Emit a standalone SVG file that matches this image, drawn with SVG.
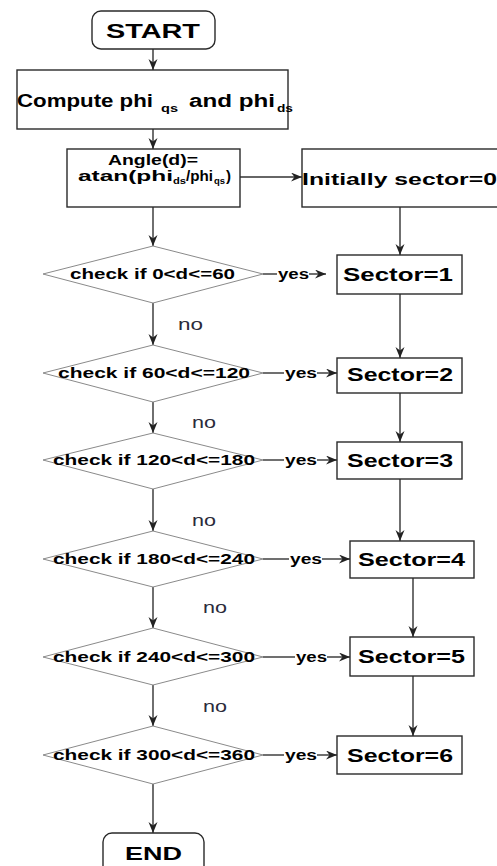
<svg xmlns="http://www.w3.org/2000/svg" width="497" height="866" viewBox="0 0 497 866">
  <style>
    .box { fill: #fff; stroke: #2a2a2a; stroke-width: 1.4; }
    .dec { fill: #fff; stroke: #8a8a8a; stroke-width: 1; }
    .wire { fill: none; stroke: #333; stroke-width: 1.4; }
    .b { font-family: "Liberation Sans", Arial, sans-serif; font-weight: bold; fill: #000; }
    .no { font-family: "Liberation Sans", Arial, sans-serif; font-size: 17px; fill: #2b2b3a; }
  </style>
  <defs>
    <marker id="ah" markerUnits="userSpaceOnUse" markerWidth="12" markerHeight="10" refX="11" refY="4.5" orient="auto">
      <path d="M0,0 L11,4.5 L0,9 L3.5,4.5 z" fill="#222"/>
    </marker>
  </defs>

  <!-- connectors -->
  <g id="connectors">
    <line class="wire" x1="153" y1="49" x2="153" y2="70" marker-end="url(#ah)"/>
    <line class="wire" x1="153" y1="129" x2="153" y2="149" marker-end="url(#ah)"/>
    <line class="wire" x1="240" y1="177" x2="302" y2="177" marker-end="url(#ah)"/>
    <line class="wire" x1="153" y1="207" x2="153" y2="246" marker-end="url(#ah)"/>
    <line class="wire" x1="400" y1="207" x2="400" y2="255" marker-end="url(#ah)"/>

    <line class="wire" x1="153" y1="303" x2="153" y2="345" marker-end="url(#ah)"/>
    <line class="wire" x1="153" y1="402" x2="153" y2="433" marker-end="url(#ah)"/>
    <line class="wire" x1="153" y1="489" x2="153" y2="531" marker-end="url(#ah)"/>
    <line class="wire" x1="153" y1="587" x2="153" y2="628" marker-end="url(#ah)"/>
    <line class="wire" x1="153" y1="685" x2="153" y2="726" marker-end="url(#ah)"/>
    <line class="wire" x1="153" y1="784" x2="153" y2="833" marker-end="url(#ah)"/>

    <line class="wire" x1="400" y1="294" x2="400" y2="358" marker-end="url(#ah)"/>
    <line class="wire" x1="400" y1="393" x2="400" y2="442" marker-end="url(#ah)"/>
    <line class="wire" x1="400" y1="479" x2="400" y2="541" marker-end="url(#ah)"/>
    <line class="wire" x1="413" y1="578" x2="413" y2="637" marker-end="url(#ah)"/>
    <line class="wire" x1="413" y1="667" x2="413" y2="736" marker-end="url(#ah)"/>

    <!-- yes branches -->
    <line class="wire" x1="263" y1="274" x2="277" y2="274"/>
    <line class="wire" x1="309" y1="274" x2="326" y2="274" marker-end="url(#ah)"/>
    <line class="wire" x1="263" y1="373" x2="284" y2="373"/>
    <line class="wire" x1="317" y1="373" x2="337" y2="373" marker-end="url(#ah)"/>
    <line class="wire" x1="263" y1="460" x2="284" y2="460"/>
    <line class="wire" x1="317" y1="460" x2="337" y2="460" marker-end="url(#ah)"/>
    <line class="wire" x1="263" y1="559" x2="289" y2="559"/>
    <line class="wire" x1="322" y1="559" x2="350" y2="559" marker-end="url(#ah)"/>
    <line class="wire" x1="263" y1="657" x2="295" y2="657"/>
    <line class="wire" x1="327" y1="657" x2="350" y2="657" marker-end="url(#ah)"/>
    <line class="wire" x1="263" y1="755" x2="284" y2="755"/>
    <line class="wire" x1="317" y1="755" x2="337" y2="755" marker-end="url(#ah)"/>

    <g class="b" font-size="14">
      <text x="278" y="279" textLength="31" lengthAdjust="spacingAndGlyphs">yes</text>
      <text x="285" y="378" textLength="32" lengthAdjust="spacingAndGlyphs">yes</text>
      <text x="285" y="465" textLength="32" lengthAdjust="spacingAndGlyphs">yes</text>
      <text x="290" y="564" textLength="32" lengthAdjust="spacingAndGlyphs">yes</text>
      <text x="296" y="662" textLength="31" lengthAdjust="spacingAndGlyphs">yes</text>
      <text x="285" y="760" textLength="32" lengthAdjust="spacingAndGlyphs">yes</text>
    </g>

    <text class="no" x="178" y="330" textLength="25" lengthAdjust="spacingAndGlyphs">no</text>
    <text class="no" x="192" y="428" textLength="24" lengthAdjust="spacingAndGlyphs">no</text>
    <text class="no" x="192" y="526" textLength="24" lengthAdjust="spacingAndGlyphs">no</text>
    <text class="no" x="203" y="613" textLength="24" lengthAdjust="spacingAndGlyphs">no</text>
    <text class="no" x="203" y="712" textLength="24" lengthAdjust="spacingAndGlyphs">no</text>
  </g>

  <!-- terminals -->
  <g id="start">
    <rect class="box" x="92" y="11" width="123" height="38" rx="9"/>
    <text class="b" x="106" y="38" font-size="20" textLength="94" lengthAdjust="spacingAndGlyphs">START</text>
  </g>
  <g id="end">
    <rect class="box" x="103" y="833" width="101" height="42" rx="9"/>
    <text class="b" x="125" y="860" font-size="18" textLength="57" lengthAdjust="spacingAndGlyphs">END</text>
  </g>

  <!-- process boxes -->
  <g id="compute">
    <rect class="box" x="17" y="70" width="271" height="59"/>
    <text class="b" x="17" y="107" font-size="18" textLength="136" lengthAdjust="spacingAndGlyphs">Compute phi</text>
    <text class="b" x="161" y="112" font-size="11" textLength="17" lengthAdjust="spacingAndGlyphs">qs</text>
    <text class="b" x="189" y="107" font-size="18" textLength="86" lengthAdjust="spacingAndGlyphs">and phi</text>
    <text class="b" x="277" y="112" font-size="11" textLength="16" lengthAdjust="spacingAndGlyphs">ds</text>
  </g>
  <g id="angle">
    <rect class="box" x="67" y="149" width="173" height="58"/>
    <text class="b" x="108" y="165" font-size="15" textLength="90" lengthAdjust="spacingAndGlyphs">Angle(d)=</text>
    <text class="b" x="78" y="181" font-size="15" textLength="95" lengthAdjust="spacingAndGlyphs">atan(phi</text>
    <text class="b" x="173" y="184" font-size="9" textLength="13" lengthAdjust="spacingAndGlyphs">ds</text>
    <text class="b" x="186" y="181" font-size="15" textLength="27" lengthAdjust="spacingAndGlyphs">/phi</text>
    <text class="b" x="214" y="184" font-size="9" textLength="11" lengthAdjust="spacingAndGlyphs">qs</text>
    <text class="b" x="226" y="181" font-size="15" textLength="5" lengthAdjust="spacingAndGlyphs">)</text>
  </g>
  <g id="init">
    <rect class="box" x="302" y="149" width="200" height="58"/>
    <text class="b" x="302" y="185" font-size="17" textLength="195" lengthAdjust="spacingAndGlyphs">Initially sector=0</text>
  </g>

  <!-- decisions -->
  <g id="check1">
    <polygon class="dec" points="43,274 153,246 263,274 153,303"/>
    <text class="b" x="70" y="279" font-size="15" textLength="165" lengthAdjust="spacingAndGlyphs">check if 0&lt;d&lt;=60</text>
  </g>
  <g id="check2">
    <polygon class="dec" points="43,373 153,345 263,373 153,402"/>
    <text class="b" x="58" y="378" font-size="15" textLength="192" lengthAdjust="spacingAndGlyphs">check if 60&lt;d&lt;=120</text>
  </g>
  <g id="check3">
    <polygon class="dec" points="43,460 153,433 263,460 153,489"/>
    <text class="b" x="53" y="465" font-size="15" textLength="202" lengthAdjust="spacingAndGlyphs">check if 120&lt;d&lt;=180</text>
  </g>
  <g id="check4">
    <polygon class="dec" points="43,559 153,531 263,559 153,587"/>
    <text class="b" x="53" y="564" font-size="15" textLength="202" lengthAdjust="spacingAndGlyphs">check if 180&lt;d&lt;=240</text>
  </g>
  <g id="check5">
    <polygon class="dec" points="43,657 153,628 263,657 153,685"/>
    <text class="b" x="53" y="662" font-size="15" textLength="202" lengthAdjust="spacingAndGlyphs">check if 240&lt;d&lt;=300</text>
  </g>
  <g id="check6">
    <polygon class="dec" points="43,755 153,726 263,755 153,784"/>
    <text class="b" x="53" y="760" font-size="15" textLength="202" lengthAdjust="spacingAndGlyphs">check if 300&lt;d&lt;=360</text>
  </g>

  <!-- sector assignments -->
  <g id="sector1">
    <rect class="box" x="337" y="255" width="125" height="39"/>
    <text class="b" x="343" y="281" font-size="18" textLength="110" lengthAdjust="spacingAndGlyphs">Sector=1</text>
  </g>
  <g id="sector2">
    <rect class="box" x="337" y="358" width="125" height="35"/>
    <text class="b" x="347" y="381" font-size="18" textLength="106" lengthAdjust="spacingAndGlyphs">Sector=2</text>
  </g>
  <g id="sector3">
    <rect class="box" x="337" y="442" width="125" height="37"/>
    <text class="b" x="347" y="467" font-size="18" textLength="106" lengthAdjust="spacingAndGlyphs">Sector=3</text>
  </g>
  <g id="sector4">
    <rect class="box" x="350" y="541" width="124" height="37"/>
    <text class="b" x="358" y="566" font-size="18" textLength="107" lengthAdjust="spacingAndGlyphs">Sector=4</text>
  </g>
  <g id="sector5">
    <rect class="box" x="350" y="637" width="124" height="39"/>
    <text class="b" x="358" y="663" font-size="18" textLength="107" lengthAdjust="spacingAndGlyphs">Sector=5</text>
  </g>
  <g id="sector6">
    <rect class="box" x="337" y="736" width="125" height="38"/>
    <text class="b" x="347" y="762" font-size="18" textLength="106" lengthAdjust="spacingAndGlyphs">Sector=6</text>
  </g>
</svg>
